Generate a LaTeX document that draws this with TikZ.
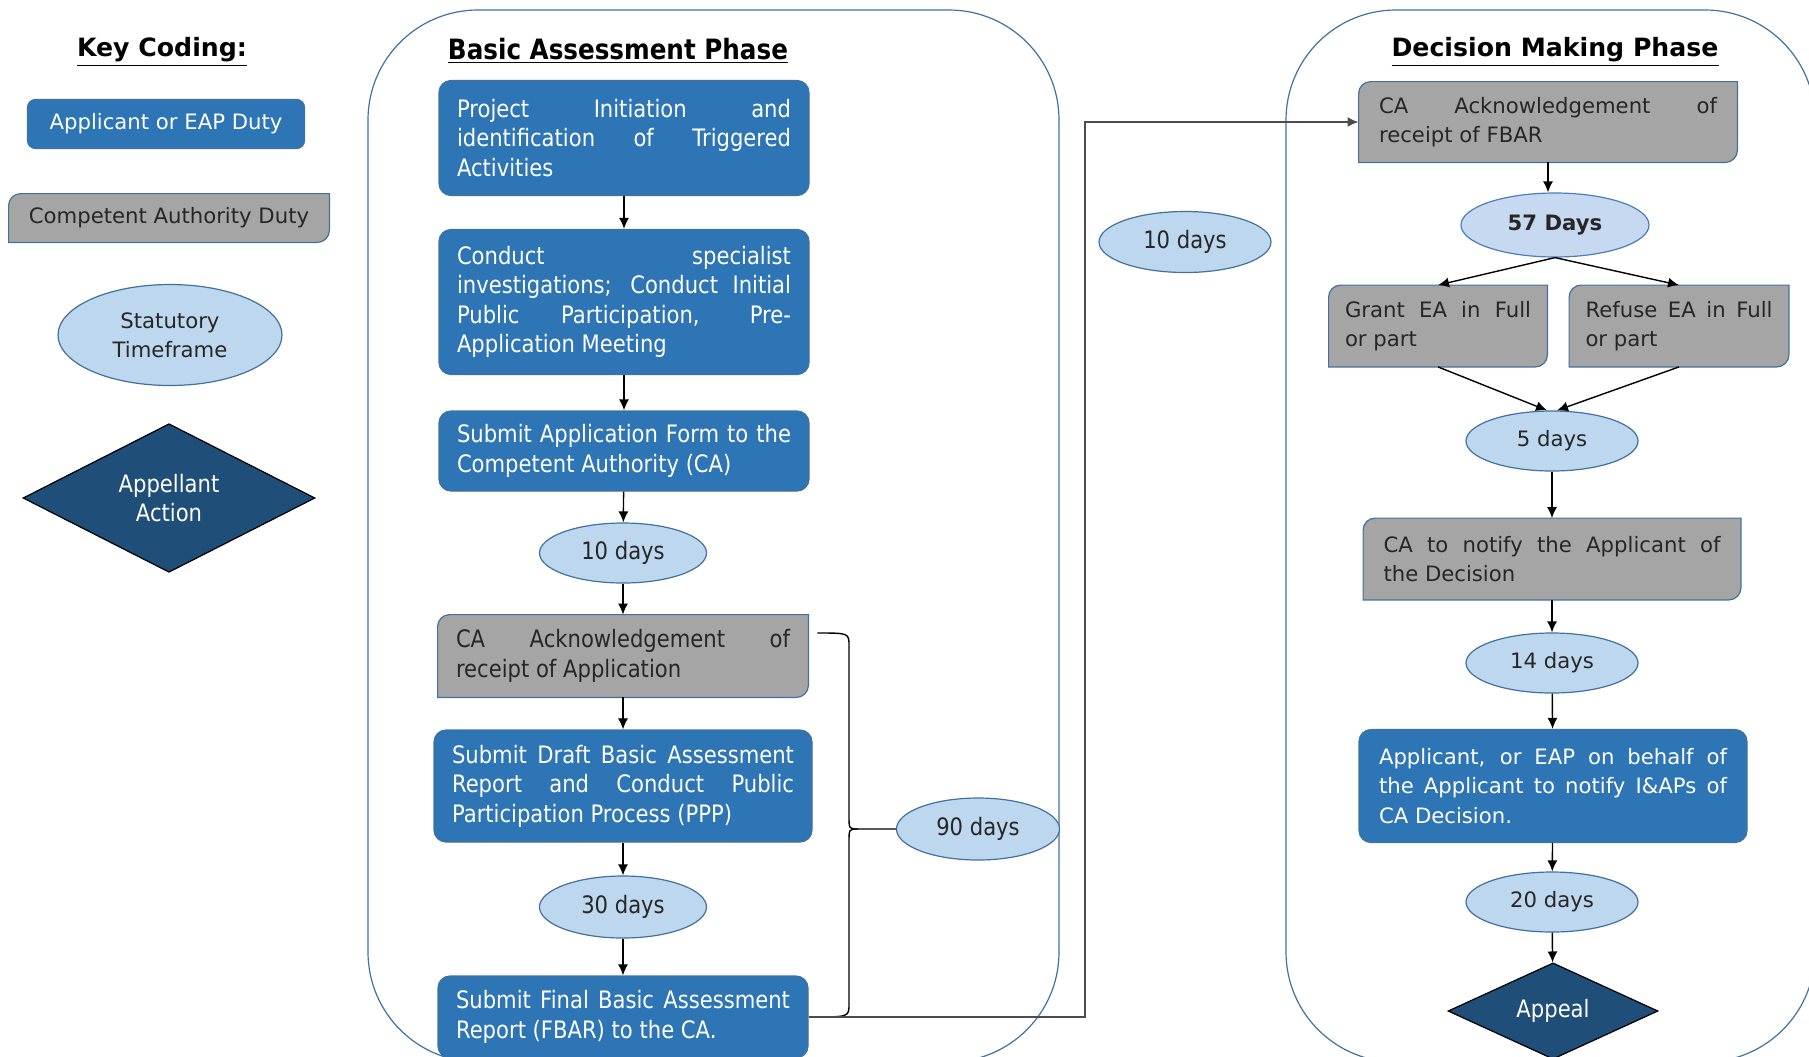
\documentclass[tikz,border=0pt]{standalone}
\usepackage{fontspec}
\setmainfont{DejaVu Sans}
\newfontfamily\narrowfont[FakeStretch=0.88]{DejaVu Sans}
\usepackage{tikz}
\usetikzlibrary{shapes.geometric,arrows.meta,backgrounds}

\definecolor{eapblue}{HTML}{2E75B6}
\definecolor{cagray}{HTML}{A5A5A5}
\definecolor{edgeblue}{HTML}{41719C}
\definecolor{timefill}{HTML}{BDD7EE}
\definecolor{appealblue}{HTML}{1F4E79}
\definecolor{daysfill}{HTML}{C6D9F1}
\definecolor{daysedge}{HTML}{4A7EBB}

\tikzset{
  rightfont/.style={font=\fontsize{10.6}{14.7}\selectfont},
  midfont/.style={font=\narrowfont\fontsize{12}{14.7}\selectfont},
  heading/.style={font=\bfseries\fontsize{12.6}{15}\selectfont},
  midheading/.style={font=\narrowfont\bfseries\fontsize{14}{16}\selectfont},
  eapbox/.style={rectangle, rounded corners=6pt, fill=eapblue, draw=edgeblue,
    line width=0.6pt, text=white, align=justify, inner xsep=10pt},
  cabox/.style={rectangle, align=justify, text=black!85, inner xsep=10pt},
  cashape/.style={fill=cagray, draw=edgeblue, line width=0.6pt},
  timeframe/.style={ellipse, fill=timefill, draw=edgeblue, line width=0.6pt,
    inner sep=0pt, text=black!85, align=center},
  appealbox/.style={diamond, fill=appealblue, draw=black, line width=0.6pt,
    inner sep=0pt, text=white, align=center},
  phase/.style={draw=edgeblue, line width=0.6pt, rounded corners=55pt},
  flow/.style={-{Latex[length=5.5pt,width=5pt]}, line width=0.7pt},
  bracket/.style={line width=0.7pt},
  feed/.style={-{Latex[length=5.5pt,width=5pt]}, draw=black!70, line width=1pt},
}

\begin{document}
\begin{tikzpicture}[x=0.5pt,y=-0.5pt]
\useasboundingbox (0,0) rectangle (1809,1056);

% key coding
\node[heading] (keytitle) at (162,52) {\underline{Key Coding:}};
\node[eapbox, rightfont, rounded corners=4pt, align=center, inner xsep=0pt,
  minimum width=138.5pt, minimum height=24.5pt] (keyblue) at (166,124) {Applicant or EAP Duty};
\node[cabox, rightfont, align=center, inner xsep=0pt,
  minimum width=160pt, minimum height=24pt] (keygray) at (169,218) {Competent Authority Duty};
\node[timeframe, rightfont, minimum width=112pt, minimum height=50.5pt] (keytime) at (170,335) {Statutory\\Timeframe};
\node[appealbox, midfont, minimum width=146pt, minimum height=73pt] (keyappeal) at (169,498) {Appellant\\Action};

% basic assessment phase
\node[midheading] (batitle) at (618,51) {\underline{Basic Assessment Phase}};
\node[eapbox, midfont, text width=167pt, inner xsep=9pt, minimum height=57.5pt] (proj) at (624,138)
  {Project Initiation and\linebreak identification of Triggered\linebreak Activities};
\node[eapbox, midfont, text width=167pt, inner xsep=9pt, minimum height=72.5pt] (spec) at (624,302)
  {Conduct specialist\linebreak investigations; Conduct Initial\linebreak Public Participation, Pre-\linebreak Application Meeting};
\node[eapbox, midfont, text width=167pt, inner xsep=9pt, minimum height=40pt] (appform) at (624,451)
  {Submit Application Form to the\linebreak Competent Authority (CA)};
\node[timeframe, midfont, minimum width=83.5pt, minimum height=30pt] (tenA) at (623,553) {10 days};
\node[cabox, midfont, text width=167pt, inner xsep=9pt, minimum height=41pt] (ackapp) at (623,656)
  {CA Acknowledgement of\linebreak receipt of Application};
\node[eapbox, midfont, text width=171pt, inner xsep=9pt, minimum height=56pt] (draft) at (623,786)
  {Submit Draft Basic Assessment\linebreak Report and Conduct Public\linebreak Participation Process (PPP)};
\node[timeframe, midfont, minimum width=83.5pt, minimum height=31pt] (thirty) at (623,907) {30 days};
\node[eapbox, midfont, text width=167pt, inner xsep=9pt, minimum height=41pt] (final) at (623,1017)
  {Submit Final Basic Assessment\linebreak Report (FBAR) to the CA.};
\node[timeframe, midfont, minimum width=81.5pt, minimum height=31pt] (ninety) at (978,829) {90 days};
\node[timeframe, midfont, minimum width=86pt, minimum height=30.5pt] (tenB) at (1185,242) {10 days};

% decision making phase
\node[heading] (dmtitle) at (1555,52) {\underline{Decision Making Phase}};
\node[cabox, rightfont, text width=169pt, minimum height=40pt] (ackfbar) at (1548,122)
  {CA Acknowledgement of\linebreak receipt of FBAR};
\node[timeframe, rightfont, fill=daysfill, draw=daysedge, minimum width=94pt, minimum height=32pt] (fiftyseven) at (1555,225)
  {\bfseries 57 Days};
\node[cabox, rightfont, text width=93pt, inner xsep=8pt, minimum height=40.5pt] (grant) at (1438,326)
  {Grant EA in Full\linebreak or part};
\node[cabox, rightfont, text width=93.5pt, inner xsep=8pt, minimum height=40.5pt] (refuse) at (1679,326)
  {Refuse EA in Full\linebreak or part};
\node[timeframe, rightfont, minimum width=86pt, minimum height=30pt] (five) at (1552,441) {5 days};
\node[cabox, rightfont, text width=168.5pt, minimum height=40.5pt] (notify) at (1552,559)
  {CA to notify the Applicant of\linebreak the Decision};
\node[timeframe, rightfont, minimum width=86pt, minimum height=30pt] (fourteen) at (1552,663) {14 days};
\node[eapbox, rightfont, text width=174pt, minimum height=56.5pt] (informiaps) at (1553,786)
  {Applicant, or EAP on behalf of\linebreak the Applicant to notify I\&APs of\linebreak CA Decision.};
\node[timeframe, rightfont, minimum width=86pt, minimum height=30pt] (twenty) at (1552,902) {20 days};
\node[appealbox, midfont, minimum width=105pt, minimum height=44pt] (appeal) at (1553,1011) {Appeal};

% frames and grey boxes behind
\begin{scope}[on background layer]
\draw[phase] (368,10) rectangle (1059,1062);
\draw[phase] (1286,10) rectangle (1815,1062);
\foreach \n in {keygray,ackapp,ackfbar,grant,refuse,notify}
  \draw[cashape] (\n.south west) -- ([yshift=-6pt]\n.north west)
    arc[start angle=180,end angle=90,radius=6pt] -- (\n.north east)
    -- ([yshift=6pt]\n.south east) arc[start angle=0,end angle=-90,radius=6pt] -- cycle;
\end{scope}

% arrows down the columns
\foreach \a/\b in {proj/spec,spec/appform,appform/tenA,tenA/ackapp,ackapp/draft,draft/thirty,thirty/final,
  five/notify,notify/fourteen,fourteen/informiaps,informiaps/twenty,twenty/appeal}
  \draw[flow] (\a) -- (\b);
\draw[flow] (ackfbar.south) -- (ackfbar.south |- fiftyseven.north);
\draw[flow] (fiftyseven.south) -- (grant.north);
\draw[flow] (fiftyseven.south) -- (refuse.north);
\draw[flow] (grant.south) -- ([xshift=-2.5pt]five.north);
\draw[flow] (refuse.south) -- ([xshift=2.5pt]five.north);

% 90 days brace
\coordinate (bracetip) at (858,829);
\draw[bracket] ([xshift=4.5pt,yshift=11.5pt]ackapp.east) .. controls (849,633) .. (849,646)
  -- (849,816) .. controls (849,829) .. (bracetip) -- (ninety);
\draw[bracket] (bracetip) .. controls (849,829) .. (849,842)
  -- (849,1004) .. controls (849,1017) .. ([xshift=1.5pt]final.east);

% FBAR to decision phase
\draw[feed] (final.east) -- ++(138pt,0) |- (ackfbar.west);
\end{tikzpicture}
\end{document}
